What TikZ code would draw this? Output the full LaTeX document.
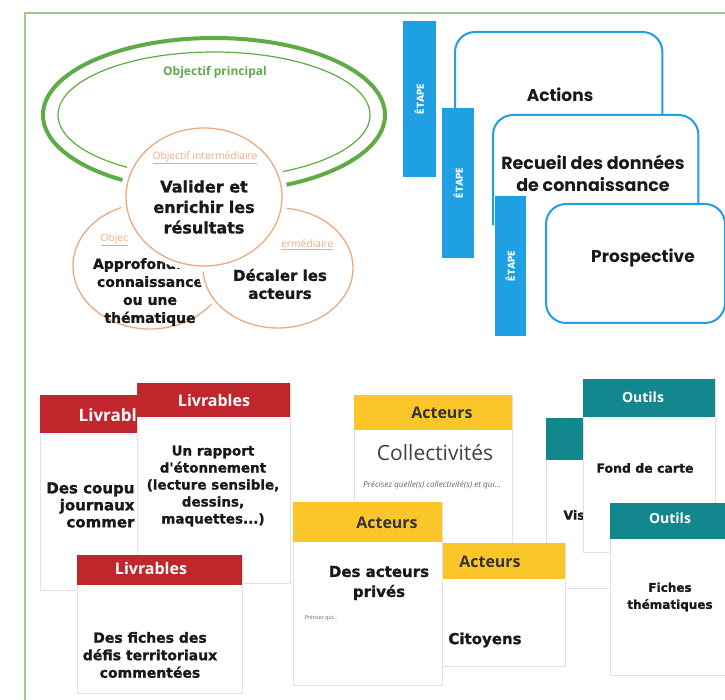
\documentclass[tikz,border=0pt]{standalone}
\usepackage{fontspec}
\setmainfont{Open Sans}
\newfontfamily\heavyfont{DejaVu Sans}[BoldFeatures={FakeBold=1.2}]
\newfontfamily\stepfont{Poppins}
\usetikzlibrary{positioning,shapes.geometric}

\definecolor{framegreen}{RGB}{160,200,140}
\definecolor{objgreen}{RGB}{94,172,70}
\definecolor{circorange}{RGB}{236,170,128}
\definecolor{stepblue}{RGB}{30,160,226}
\definecolor{livred}{RGB}{194,38,45}
\definecolor{actyellow}{RGB}{250,198,42}
\definecolor{outteal}{RGB}{18,136,142}
\definecolor{cardline}{RGB}{225,225,225}

\tikzset{
  objcircle/.style={ellipse, fill=white, draw=white, line width=4pt, double=circorange, double distance=1.3pt, inner sep=0pt},
  objlabel/.style={text=circorange, font=\fontsize{10.3}{12}\selectfont},
  circtext/.style={font=\heavyfont\bfseries\fontsize{15}{18}\selectfont, align=center, text=black!90},
  stepbar/.style={fill=stepblue, inner sep=0pt, text=white, rotate=90, font=\stepfont\bfseries\fontsize{10}{12}\selectfont},
  stepcard/.style={fill=white, rounded corners=20pt, anchor=north west, inner sep=0pt},
  stepline/.style={draw=stepblue, line width=2pt, rounded corners=20pt},
  steptext/.style={font=\stepfont\bfseries\fontsize{17}{22}\selectfont, align=center, text=black!90},
  cardbody/.style={draw=cardline, fill=white, anchor=north west, inner sep=0pt},
  cardhead/.style={anchor=north west, inner sep=0pt},
  headtext/.style={font=\bfseries\fontsize{16}{18}\selectfont},
  cardtext/.style={font=\heavyfont\bfseries\fontsize{12.5}{17}\selectfont, align=center, text=black!90},
  hinttext/.style={font=\itshape\fontsize{5.5}{6}\selectfont, text=black!60}
}

\begin{document}
\begin{tikzpicture}[x=1pt, y=-1pt]
\useasboundingbox (0,0) rectangle (725,700);
\fill[white] (0,0) rectangle (725,700);
\clip (0,0) rectangle (725,700);

% frame
\draw[framegreen, line width=1.2pt] (25,700) -- (25,13) -- (725,13);

% main objective
\draw[objgreen, line width=4pt] (214,115) ellipse [x radius=171pt, y radius=77pt];
\draw[objgreen, line width=1.2pt] (214,115) ellipse [x radius=156pt, y radius=63pt];
\node[text=objgreen, font=\bfseries\fontsize{12}{14}\selectfont] (mainlbl) at (215,72) {Objectif principal};

% intermediate objectives
\node[objcircle, minimum width=154pt, minimum height=126pt] (objleft) at (150,266) {};
\node[objlabel, anchor=west] (objleftlbl) at (97,240) {\underline{Objec}};
\node[circtext, font=\heavyfont\bfseries\fontsize{14}{18}\selectfont] (objlefttxt) at (150,292) {Approfondir la\\connaissance\\ou une\\thématique};

\node[objcircle, minimum width=150pt, minimum height=120pt] (objright) at (278,268) {};
\node[objlabel, anchor=east] (objrightlbl) at (337,245) {\underline{ermédiaire}};
\node[circtext] (objrighttxt) at (280,284) {Décaler les\\acteurs};

\node[objcircle, line width=5pt, minimum width=156pt, minimum height=138pt] (objtop) at (204,197) {};
\node[objlabel] (objtoplbl) at (205,158) {\underline{Objectif intermédiaire}};
\node[circtext, font=\heavyfont\bfseries\fontsize{16}{20.5}\selectfont] (objtoptxt) at (204,207) {Valider et\\enrichir les\\résultats};

% steps
\node[stepbar, minimum width=156pt, minimum height=33pt] (bar1) at (419,99) {ÉTAPE};
\node[stepcard, minimum width=207pt, minimum height=110pt] (actions) at (455,32) {};
\draw[stepline] (actions.south west) -- (actions.north west) -- (actions.north east) -- (actions.south east);
\node[steptext] (actionstxt) at (560,95) {Actions};

\node[stepbar, minimum width=150pt, minimum height=32pt] (bar2) at (458,183) {ÉTAPE};
\node[stepcard, minimum width=205pt, minimum height=110pt] (recueil) at (493,115) {};
\draw[stepline] (recueil.south west) -- (recueil.north west) -- (recueil.north east) -- (recueil.south east);
\node[steptext, font=\stepfont\bfseries\fontsize{17.5}{22}\selectfont] (recueiltxt) at (593,173) {Recueil des données\\de connaissance};

\node[stepbar, minimum width=140pt, minimum height=31pt] (bar3) at (510,266) {ÉTAPE};
\node[stepcard, draw=stepblue, line width=2pt, minimum width=179pt, minimum height=119pt] (prosp) at (545,203) {};
\node[steptext] (prosptxt) at (643,258) {Prospective};

% deliverables
\node[cardbody, minimum width=153pt, minimum height=195pt] (livA) at (40,395) {};
\node[cardhead, fill=livred, minimum width=153pt, minimum height=38pt] (livAhead) at (livA.north west) {};
\node[headtext, text=white, font=\bfseries\fontsize{17}{19}\selectfont] (livAlbl) at (117,415) {Livrables};
\node[cardtext, font=\heavyfont\bfseries\fontsize{15}{17}\selectfont, anchor=east, align=right] (livAtxt) at (138,505) {Des coupu\\journaux\\commer};

\node[cardbody, minimum width=153pt, minimum height=200pt] (livB) at (137,383) {};
\node[cardhead, fill=livred, minimum width=153pt, minimum height=34pt] (livBhead) at (livB.north west) {};
\node[headtext, text=white] (livBlbl) at (214,400) {Livrables};
\node[cardtext, font=\heavyfont\bfseries\fontsize{13.5}{17}\selectfont] (livBtxt) at (213,486) {Un rapport\\d'étonnement\\(lecture sensible,\\dessins,\\maquettes...)};

\node[cardbody, minimum width=165pt, minimum height=138pt] (livC) at (77,555) {};
\node[cardhead, fill=livred, minimum width=165pt, minimum height=30pt] (livChead) at (livC.north west) {};
\node[headtext, text=white] (livClbl) at (151,568) {Livrables};
\node[cardtext, font=\heavyfont\bfseries\fontsize{14}{17.5}\selectfont] (livCtxt) at (150,655) {Des fiches des\\défis territoriaux\\commentées};

% actors
\node[cardbody, minimum width=158pt, minimum height=165pt] (actD) at (354,395) {};
\node[cardhead, fill=actyellow, minimum width=158pt, minimum height=35pt] (actDhead) at (actD.north west) {};
\node[headtext, text=black!80] (actDlbl) at (442,413) {Acteurs};
\node[font=\fontsize{21}{24}\selectfont, text=black!75] (actDtxt) at (435,453) {Collectivités};
\node[hinttext, font=\itshape\fontsize{8.2}{9}\selectfont] (actDhint) at (432,485) {Précisez quelle(s) collectivité(s) et qui...};

% tools
\node[cardbody, minimum width=132pt, minimum height=170pt] (outG) at (546,418) {};
\node[cardhead, fill=outteal, minimum width=132pt, minimum height=42pt] (outGhead) at (outG.north west) {};
\node[cardtext, anchor=west] (outGtxt) at (560,515) {Vis};

\node[cardbody, minimum width=132pt, minimum height=173pt] (outH) at (583,379) {};
\node[cardhead, fill=outteal, minimum width=132pt, minimum height=38pt] (outHhead) at (outH.north west) {};
\node[headtext, text=white, font=\bfseries\fontsize{14}{16}\selectfont] (outHlbl) at (643,397) {Outils};
\node[cardtext] (outHtxt) at (645,468) {Fond de carte};

\node[cardbody, minimum width=120pt, minimum height=172pt] (outI) at (610,503) {};
\node[cardhead, fill=outteal, minimum width=120pt, minimum height=36pt] (outIhead) at (outI.north west) {};
\node[headtext, text=white, font=\bfseries\fontsize{14}{16}\selectfont] (outIlbl) at (670,518) {Outils};
\node[cardtext, font=\heavyfont\bfseries\fontsize{12}{17}\selectfont] (outItxt) at (670,597) {Fiches\\thématiques};

% actors, front
\node[cardbody, minimum width=155pt, minimum height=123pt] (actF) at (410,543) {};
\node[cardhead, fill=actyellow, minimum width=155pt, minimum height=36pt] (actFhead) at (actF.north west) {};
\node[headtext, text=black!80] (actFlbl) at (490,562) {Acteurs};
\node[cardtext, font=\heavyfont\bfseries\fontsize{15}{18}\selectfont] (actFtxt) at (485,640) {Citoyens};

\node[cardbody, minimum width=149pt, minimum height=183pt] (actE) at (293,502) {};
\node[cardhead, fill=actyellow, minimum width=149pt, minimum height=40pt] (actEhead) at (actE.north west) {};
\node[headtext, text=black!80] (actElbl) at (387,523) {Acteurs};
\node[cardtext, font=\heavyfont\bfseries\fontsize{15}{20}\selectfont] (actEtxt) at (379,583) {Des acteurs\\privés};
\node[hinttext, anchor=west] (actEhint) at (301,618) {Précisez qui...};
\end{tikzpicture}
\end{document}
